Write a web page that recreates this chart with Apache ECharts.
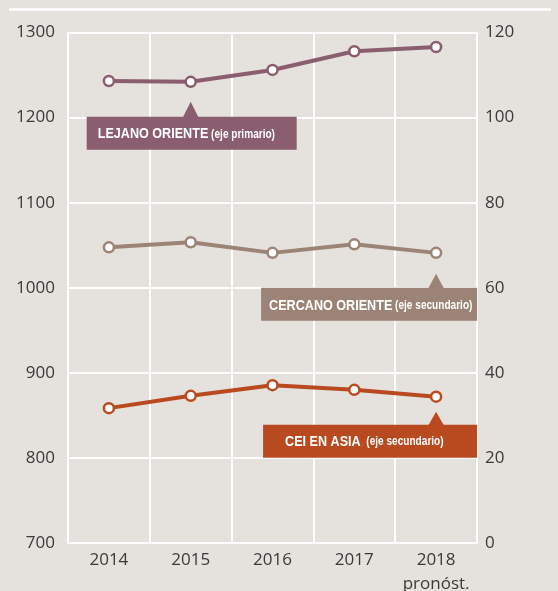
<!DOCTYPE html>
<html>
<head>
<meta charset="utf-8">
<script src="https://cdn.jsdelivr.net/npm/echarts@6/dist/echarts.min.js"></script>
<style>
  html, body { margin: 0; padding: 0; background: #e5e1dd; }
  #chart { width: 558px; height: 591px; }
</style>
</head>
<body>
<div id="chart"></div>
<script>
// datos
const years = ['2014', '2015', '2016', '2017', '2018'];
const lejanoOriente = [1243, 1242, 1256, 1278, 1283];   // eje primario
const cercanoOriente = [69.5, 70.7, 68.2, 70.2, 68.2];   // eje secundario
const ceiAsia = [31.7, 34.6, 37.1, 36.0, 34.4];          // eje secundario

const colors = { lejano: '#8a5d6f', cercano: '#9b8376', cei: '#b9491f' };
const font = "'Open Sans', 'Liberation Sans', sans-serif";
const boxFont = "'Liberation Sans', sans-serif";

const chart = echarts.init(document.getElementById('chart'));

function lineSeries(name, data, color, axis) {
    return {
        name: name,
        type: 'line',
        yAxisIndex: axis,
        data: data,
        symbol: 'circle',
        symbolSize: 10,
        lineStyle: { color: color, width: 4 },
        itemStyle: { color: '#ffffff', borderColor: color, borderWidth: 2.5 },
        emphasis: { disabled: true },
        z: 5
    };
}

const option = {
    animation: false,
    backgroundColor: '#e5e1dd',
    grid: { left: 68, right: 81, top: 32.5, bottom: 48, outerBoundsMode: 'none', containLabel: false },
    xAxis: {
        type: 'category',
        data: years,
        boundaryGap: true,
        axisLine: { lineStyle: { color: '#ffffff', width: 2 } },
        axisTick: { show: false },
        splitLine: { show: true, interval: 0, lineStyle: { color: '#ffffff', width: 2 } },
        axisLabel: {
            interval: 0,
            margin: 5,
            color: '#3a3a3a',
            fontFamily: font,
            fontSize: 17,
            lineHeight: 24,
            formatter: function (v) { return v === '2018' ? v + '\npronóst.' : v; }
        }
    },
    yAxis: [
        {
            type: 'value', min: 700, max: 1300, interval: 100,
            axisLine: { show: true, lineStyle: { color: '#ffffff', width: 2 } },
            axisTick: { show: false },
            splitLine: { lineStyle: { color: '#ffffff', width: 2 } },
            axisLabel: { margin: 13, color: '#3a3a3a', fontFamily: font, fontSize: 17,
                formatter: function (v) { return String(v); } }
        },
        {
            type: 'value', min: 0, max: 120, interval: 20,
            axisLine: { show: true, lineStyle: { color: '#ffffff', width: 2 } },
            axisTick: { show: false },
            splitLine: { show: false },
            axisLabel: { margin: 8, color: '#3a3a3a', fontFamily: font, fontSize: 17 }
        }
    ],
    series: [
        lineSeries('LEJANO ORIENTE', lejanoOriente, colors.lejano, 0),
        lineSeries('CERCANO ORIENTE', cercanoOriente, colors.cercano, 1),
        lineSeries('CEI EN ASIA', ceiAsia, colors.cei, 1)
    ]
};
chart.setOption(option);

// etiquetas con flecha, ancladas a un punto de la serie
const notes = [
    { series: 0, idx: 1, tip: 20, top: 35, h: 33, left: -104, right: 106, color: colors.lejano,
      a: 'LEJANO ORIENTE', b: '(eje primario)', textX: 11, gap: ' ' },
    { series: 1, idx: 4, tip: 21, top: 35, h: 33, left: -175, right: 41, color: colors.cercano,
      a: 'CERCANO ORIENTE', b: '(eje secundario)', textX: 8, gap: ' ' },
    { series: 2, idx: 4, tip: 15, top: 28, h: 33, left: -173, right: 41, color: colors.cei,
      a: 'CEI EN ASIA', b: '(eje secundario)', textX: 22, gap: '  ' }
];

const graphics = [{
    type: 'line', shape: { x1: 9, y1: 9.5, x2: 551, y2: 9.5 },
    style: { stroke: '#ffffff', lineWidth: 2.5 }, silent: true
}];
notes.forEach(function (n) {
    const data = option.series[n.series].data;
    const p = chart.convertToPixel({ seriesIndex: n.series }, [n.idx, data[n.idx]]);
    const x = p[0], y = p[1];
    const boxTop = y + n.top;
    graphics.push({
        type: 'polygon',
        shape: { points: [[x - 8, boxTop + 1], [x, y + n.tip], [x + 8, boxTop + 1]] },
        style: { fill: n.color }, silent: true, z: 10
    });
    graphics.push({
        type: 'rect',
        shape: { x: x + n.left, y: boxTop, width: n.right - n.left, height: n.h },
        style: { fill: n.color }, silent: true, z: 10
    });
    graphics.push({
        type: 'text',
        x: x + n.left + n.textX, y: boxTop + n.h / 2 + 1,
        scaleX: 0.84,
        style: {
            text: '{a|' + n.a + '}' + n.gap + '{b|' + n.b + '}',
            verticalAlign: 'middle',
            rich: {
                a: { fill: '#ffffff', fontFamily: boxFont, fontWeight: 'bold', fontSize: 15 },
                b: { fill: '#ffffff', fontFamily: boxFont, fontWeight: 'bold', fontSize: 12 }
            }
        },
        silent: true, z: 11
    });
});
chart.setOption({ graphic: graphics });
</script>
</body>
</html>
